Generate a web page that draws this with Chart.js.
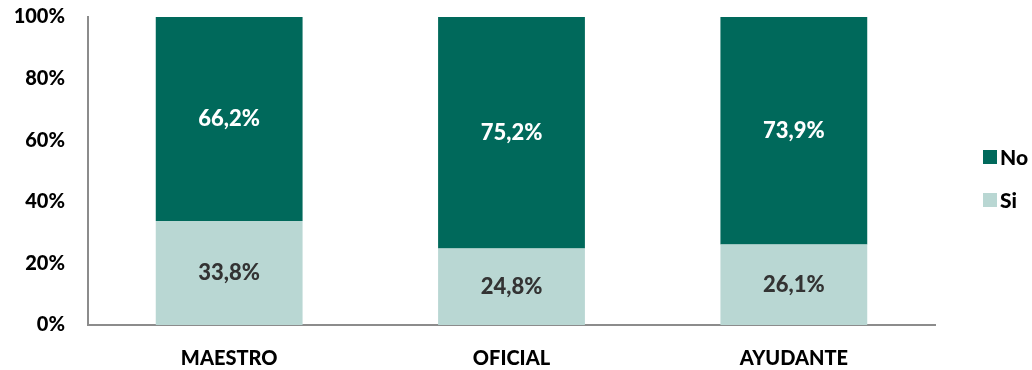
<!DOCTYPE html>
<html>
<head>
<meta charset="utf-8">
<script src="https://cdn.jsdelivr.net/npm/chart.js@4/dist/chart.umd.min.js"></script>
<style>
  html, body { margin: 0; padding: 0; background: #fff; }
  #wrap { width: 1032px; height: 370px; }
</style>
</head>
<body>
<div id="wrap"><canvas id="chart"></canvas></div>
<script>
var categories = ["MAESTRO", "OFICIAL", "AYUDANTE"];
var siValues = [33.8, 24.8, 26.1];
var noValues = [66.2, 75.2, 73.9];
var yTicks = [0, 20, 40, 60, 80, 100];

var darkGreen = "#00695b";
var lightGreen = "#b9d7d3";
var font = "Lato, 'Liberation Sans', sans-serif";
var weight = "900";

// draws the percentage in the middle of each bar segment
var barLabels = {
  id: "barLabels",
  afterDatasetsDraw: function (chart) {
    var ctx = chart.ctx;
    ctx.save();
    ctx.font = weight + " 22px " + font;
    ctx.textAlign = "center";
    ctx.textBaseline = "middle";
    chart.data.datasets.forEach(function (ds, i) {
      var meta = chart.getDatasetMeta(i);
      meta.data.forEach(function (bar, j) {
        var mid = (bar.y + bar.base) / 2;
        ctx.fillStyle = ds.labelColor;
        ctx.fillText(ds.data[j].toFixed(1).replace(".", ",") + "%", bar.x, mid);
      });
    });
    ctx.restore();
  },
};

// legend on the right, top item is the top stack segment
var sideLegend = {
  id: "sideLegend",
  afterDraw: function (chart) {
    var ctx = chart.ctx;
    var items = chart.data.datasets.slice().reverse();
    var x = chart.chartArea.right + 48;
    var y0 = chart.height / 2 - 28;
    ctx.save();
    ctx.font = weight + " 21px " + font;
    ctx.textBaseline = "middle";
    items.forEach(function (ds, i) {
      var y = y0 + i * 43;
      ctx.fillStyle = ds.backgroundColor;
      ctx.fillRect(x, y - 7, 14, 14);
      ctx.fillStyle = "#000";
      ctx.fillText(ds.label, x + 17, y + 1);
    });
    ctx.restore();
  },
};

const ctx = document.getElementById("chart").getContext("2d");
const chart = new Chart(ctx, {
  type: "bar",
  data: {
    labels: categories,
    datasets: [
      {
        label: "Si",
        data: siValues,
        backgroundColor: lightGreen,
        labelColor: "#333333",
      },
      {
        label: "No",
        data: noValues,
        backgroundColor: darkGreen,
        labelColor: "#ffffff",
      },
    ],
  },
  options: {
    responsive: true,
    maintainAspectRatio: false,
    animation: false,
    barPercentage: 0.52,
    categoryPercentage: 1,
    layout: { padding: { top: 17, right: 97, left: 0, bottom: 0 } },
    plugins: {
      tooltip: { enabled: false },
      legend: { display: false },
    },
    scales: {
      x: {
        stacked: true,
        grid: { display: false },
        border: { display: true, color: "#8c8c8c", width: 2 },
        ticks: {
          color: "#000",
          padding: 14,
          font: { family: font, size: 20, weight: weight },
        },
        afterFit: function (scale) {
          scale.height = 45;
          scale.paddingLeft = 0;
          scale.paddingRight = 0;
        },
      },
      y: {
        stacked: true,
        min: 0,
        max: 100,
        grid: { display: false },
        border: { display: true, color: "#8c8c8c", width: 2 },
        afterBuildTicks: function (scale) {
          scale.ticks = yTicks.map(function (v) { return { value: v }; });
        },
        ticks: {
          color: "#000",
          padding: 15,
          font: { family: font, size: 20, weight: weight },
          callback: function (v) { return v + "%"; },
        },
        afterFit: function (scale) {
          scale.width = 88;
          scale.paddingTop = 0;
          scale.paddingBottom = 0;
        },
      },
    },
  },
  plugins: [barLabels, sideLegend],
});
</script>
</body>
</html>
